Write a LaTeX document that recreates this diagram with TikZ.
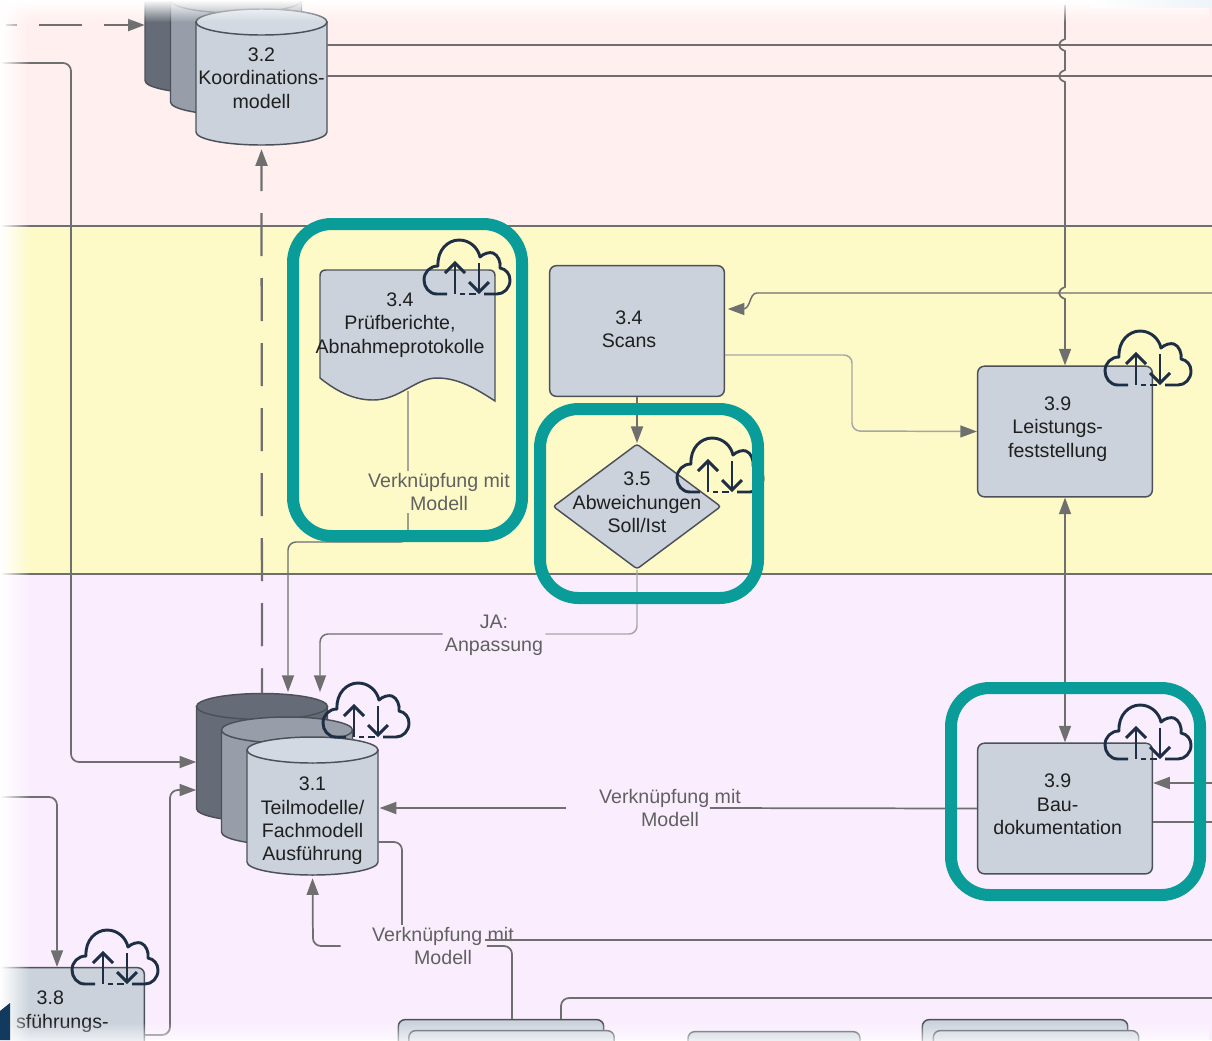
\documentclass[tikz,border=0pt]{standalone}
\usepackage{fontspec}
\setmainfont{Liberation Sans}
\usetikzlibrary{arrows.meta,positioning,calc,shapes.geometric,fadings}
\definecolor{bandrot}{HTML}{FFEFEE}
\definecolor{bandgelb}{HTML}{FDFAC8}
\definecolor{bandlila}{HTML}{FAEEFE}
\definecolor{boxcol}{HTML}{CBD2DC}
\definecolor{endcol}{HTML}{D2D9E2}
\definecolor{midcol}{HTML}{979EA9}
\definecolor{darkcol}{HTML}{666C77}
\definecolor{edgecol}{HTML}{4C5159}
\definecolor{linecol}{HTML}{6F6F6F}
\definecolor{hellcol}{HTML}{A6A6A2}
\definecolor{tealcol}{HTML}{0A9C98}
\definecolor{cloudcol}{HTML}{1E2F45}
\definecolor{navycol}{HTML}{123A5E}
\definecolor{eckcol}{HTML}{EEF4FA}
\tikzset{
  cloudsync/.pic={
    \draw[cloudcol,line width=2.2pt,line join=round]
      (23,54) -- (13,54) .. controls (5,54) and (0,47) .. (0,40)
      .. controls (0,32) and (6,26) .. (14,26)
      .. controls (13,10) and (24,0) .. (35,0)
      .. controls (46,0) and (54,8) .. (56,17)
      .. controls (60,13) and (66,12) .. (69,13)
      .. controls (74,15) and (77,22) .. (76,28)
      .. controls (82,29) and (86,34) .. (86,40)
      .. controls (86,48) and (80,54) .. (73,54) -- (60,54);
    \draw[cloudcol,line width=2.2pt] (31,54) -- (31,23);
    \draw[cloudcol,line width=2.2pt] (21,33) -- (31,23) -- (41,33);
    \draw[cloudcol,line width=2.2pt] (36,54) -- (41,54) (45,54) -- (52,54);
    \draw[cloudcol,line width=2.2pt] (55,23) -- (55,52);
    \draw[cloudcol,line width=2.2pt] (45,42) -- (55,52) -- (65,42);
  },
  pics/walze/.style n args={3}{code={
    \draw[edgecol,line width=1.1pt,fill=#1] (-65.5,-#3) -- (-65.5,#3)
      arc[start angle=180,end angle=0,x radius=65.5,y radius=13] -- (65.5,-#3) -- cycle;
    \draw[edgecol,line width=1.1pt,fill=#2] (0,-#3) ellipse[x radius=65.5,y radius=13];
  }}
}
\begin{document}
\begin{tikzpicture}[
  x=.75pt,y=-.75pt,
  >={Triangle[length=12.5pt,width=9pt,color=linecol]},
  txt/.style={font=\fontsize{14.7}{17.6}\selectfont,align=center,text=black!88,inner sep=0pt},
  linktxt/.style={font=\fontsize{14.7}{17.6}\selectfont,align=center,text=black!62,inner sep=1.5pt},
  boxn/.style={draw=edgecol,line width=1.1pt,fill=boxcol,rounded corners=5pt,minimum width=131pt,minimum height=98pt,inner sep=0pt},
  walzen/.style={minimum width=98.25pt,minimum height=#1,inner sep=0pt},
  verb/.style={draw=linecol,line width=1.3pt,rounded corners=6pt},
  verbhell/.style={draw=hellcol,line width=1.1pt,rounded corners=6pt},
  gestr/.style={draw=linecol,line width=1.7pt,dash pattern=on 32.25pt off 16.5pt},
  frame/.style={draw=tealcol,line width=9pt,rounded corners=29pt}]
\useasboundingbox (0,0) rectangle (1212,1040);
% bands
\fill[white] (0,0) rectangle (1212,1040);
\fill[bandrot] (0,0) rectangle (1212,226);
\fill[bandgelb] (0,226) rectangle (1212,574);
\fill[bandlila] (0,574) rectangle (1212,1040);
\draw[linecol,line width=.9pt] (0,226) -- (1212,226);
\draw[linecol,line width=.9pt] (0,574) -- (1212,574);
% free ends
\coordinate (gestrStart) at (6,25);
\coordinate (linksA) at (0,63);
\coordinate (linksB) at (0,797);
\coordinate (rechtsA) at (1212,45);
\coordinate (rechtsB) at (1212,76);
\coordinate (rechtsC) at (1212,293);
\coordinate (rechtsD) at (1212,783);
\coordinate (rechtsE) at (1212,822);
\coordinate (rechtsF) at (1212,940);
\coordinate (rechtsG) at (1212,998);
\coordinate (leistStart) at (1065,5);
\coordinate (pruefStart) at (408,391);
\coordinate (tmEinA) at (288,692);
\coordinate (tmEinB) at (320,692);
\coordinate (jaKnick) at (637,634);
% shapes
\pic at (210.5,29.5) {walze={darkcol}{darkcol}{51}};
\pic at (236,51) {walze={midcol}{midcol}{51}};
\pic at (261.5,77) {walze={boxcol}{endcol}{55}};
\node[walzen=96pt] (koordC) at (210.5,29.5) {};
\node[walzen=96pt] (koordB) at (236,51) {};
\node[walzen=102pt,label={[txt,yshift=-.75pt]center:{3.2\\Koordinations-\\modell}}] (koordA) at (261.5,77) {};
\pic at (262,757.5) {walze={darkcol}{darkcol}{51}};
\pic at (287,781) {walze={midcol}{midcol}{51}};
\pic at (312.5,806) {walze={boxcol}{endcol}{56}};
\node[walzen=96pt] (tmC) at (262,757.5) {};
\node[walzen=96pt] (tmB) at (287,781) {};
\node[walzen=102pt,label={[txt,yshift=-11.2pt]center:{3.1\\Teilmodelle/\\Fachmodell\\Ausführung}}] (tmA) at (312.5,806) {};
\node[boxn,label={[txt,xshift=-6pt,yshift=1.2pt]center:{3.4\\Scans}}] (scans) at (637,331) {};
\node[boxn,label={[txt,xshift=-5.5pt,yshift=2pt]center:{3.9\\Leistungs-\\feststellung}}] (leist) at (1065,431.5) {};
\node[boxn,label={[txt,xshift=-5.5pt,yshift=3pt]center:{3.9\\Bau-\\dokumentation}}] (bau) at (1065,808.5) {};
\node[boxn,label={[txt,xshift=-5pt,yshift=16pt]center:{3.8\\\phantom{Au}sführungs-}}] (ausf) at (57,1033) {};
\node[diamond,draw=edgecol,line width=1.1pt,fill=boxcol,rounded corners=2pt,aspect=1.34,minimum width=126pt,minimum height=94pt,inner sep=0pt,
  label={[txt,yshift=3pt]center:{3.5\\Abweichungen\\Soll/Ist}}] (abw) at (637,506.5) {};
\node[boxn,minimum width=154pt] (stapelA) at (501,1085) {};
\node[boxn,minimum width=154pt] (stapelAb) at (511.5,1096) {};
\node[boxn,minimum width=129pt] (stapelB) at (774,1097) {};
\node[boxn,minimum width=154pt] (stapelC) at (1025,1085) {};
\node[boxn,minimum width=154pt] (stapelCb) at (1036,1096) {};
\draw[draw=edgecol,line width=1.1pt,fill=boxcol]
  (320,378) -- (320,276) .. controls (320,272) and (322,270) .. (326,270) -- (489,270)
  .. controls (493,270) and (495,272) .. (495,276) -- (495,401)
  .. controls (475,388) and (458,378) .. (437,378)
  .. controls (415,378) and (400,400) .. (373,400)
  .. controls (352,400) and (335,390) .. (320,378) -- cycle;
\node[txt] (pruef) at (400,325) {3.4\\Prüfberichte,\\Abnahmeprotokolle};
% labels
\node[linktxt,fill=bandgelb] (vmA) at (439,492) {Verknüpfung mit\\Modell};
\node[linktxt,fill=bandlila] (ja) at (494,635.5) {JA:\\Anpassung};
\node[linktxt] (vmB) at (670,808) {Verknüpfung mit\\Modell};
\node[linktxt] (vmC) at (443,946) {Verknüpfung mit\\Modell};
% connectors
\draw[gestr,->,dash phase=24pt] (gestrStart) -- (koordC.west |- gestrStart);
\draw[verb,->] (linksA) -- (71,63) -- (71,762) -- (tmC.west |- 71,762);
\draw[verb,->] (linksB) -- (57,797) -- (ausf.north);
\draw[verb,->] (ausf.east |- 0,1035) -- (170,1035) -- (170,790) -- (tmC.west |- 170,790);
\draw[gestr,->,shorten >=3pt,dash phase=13.5pt] (tmC.north) -- (koordA.south);
\draw[verbhell] (pruefStart) -- (pruefStart |- vmA.north);
\draw[verbhell,->,draw=linecol] (pruefStart |- vmA.south) -- (408,542) -- (288,542) -- (tmEinA);
\draw[verbhell] (abw.south) -- (jaKnick) -- (ja.east |- jaKnick);
\draw[verbhell,draw=linecol,->] (ja.west |- jaKnick) -- (320,634) -- (tmEinB);
\draw[verb,->] (scans.south) -- (abw.north);
\draw[verb] (koordA.east |- rechtsA) -- (rechtsA);
\draw[verb] (koordA.east |- rechtsB) -- (rechtsB);
\draw[verb,sharp corners,line width=1.1pt,->,shorten >=2pt] (rechtsC) -- (757,293) .. controls (749,293) and (751,309) .. (743,309) -- (scans.east |- 743,309);
\draw[verb,sharp corners,->] (leistStart) -- (1065,39) .. controls (1057,42) and (1057,48) .. (1065,51)
  -- (1065,70) .. controls (1057,73) and (1057,79) .. (1065,82)
  -- (1065,287) .. controls (1057,290) and (1057,296) .. (1065,299) -- (leist.north);
\draw[verbhell,->] (scans.east |- 0,355) -- (852,355) -- (852,431) -- (leist.west);
\draw[verb,<->] (leist.south) -- (bau.north);
\draw[verb] (bau.west) -- ([xshift=-25pt]vmB.east);
\draw[verb,->,shorten >=1pt] ([xshift=-23pt]vmB.west) -- (tmA.east |- vmB);
\draw[verb] (tmA.east |- 0,842) -- (402,842) -- (402,842 |- vmC.north);
\draw[verb,->,shorten >=3pt] ([xshift=-22pt]vmC.west) -- (313,946) -- (tmA.south);
\draw[verb] ([xshift=-22pt]vmC.east) -- (512,946) -- (512,946 |- stapelA.north);
\draw[verb] (rechtsF) -- ([xshift=-23pt,yshift=4.5pt]vmC.east);
\draw[verb] (rechtsG) -- (561,998) -- (561,998 |- stapelA.north);
\draw[verb,->] (rechtsD) -- (bau.east |- rechtsD);
\draw[verb] (bau.east |- rechtsE) -- (rechtsE);
% clouds
\pic at (424,240) {cloudsync};
\pic at (677,438) {cloudsync};
\pic at (1105,331) {cloudsync};
\pic at (1105,705) {cloudsync};
\pic at (323,683) {cloudsync};
\pic at (72,930) {cloudsync};
% frames
\draw[frame] (293,224) rectangle (522,536);
\draw[frame] (540,409) rectangle (758,598);
\draw[frame] (951,688) rectangle (1200,895);
% edges of the scan
\fill[white,path fading=east] (0,0) rectangle (30,1040);
\fill[white,path fading=south] (0,0) rectangle (1212,22);
\fill[white,path fading=north] (0,1022) rectangle (1212,1050);
\shade[left color=white,right color=eckcol] (1090,0) rectangle (1212,7);
\fill[navycol] (0,1011) -- (10,1003) -- (10,1040) -- (0,1040) -- cycle;
\end{tikzpicture}
\end{document}
